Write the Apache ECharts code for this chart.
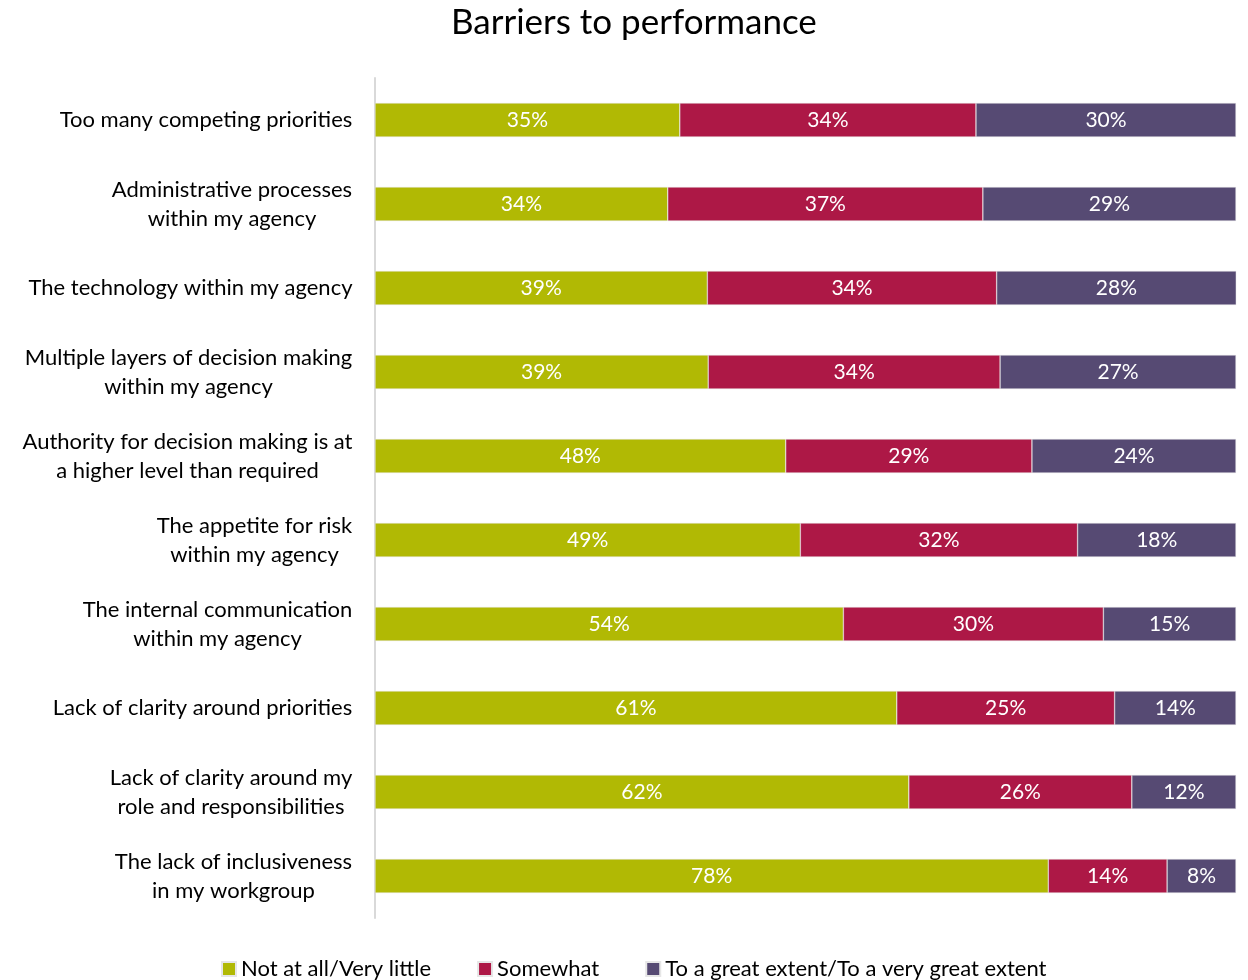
<!DOCTYPE html>
<html><head><meta charset="utf-8">
<script src="https://cdn.jsdelivr.net/npm/echarts@6/dist/echarts.min.js"></script>
<style>html,body{margin:0;padding:0;background:#fff}#c{width:1248px;height:980px}</style>
</head><body><div id="c"></div>
<script>
const categories = [
  "Too many competing priorities",
  "Administrative processes\nwithin my agency",
  "The technology within my agency",
  "Multiple layers of decision making\nwithin my agency",
  "Authority for decision making is at\na higher level than required",
  "The appetite for risk\nwithin my agency",
  "The internal communication\nwithin my agency",
  "Lack of clarity around priorities",
  "Lack of clarity around my\nrole and responsibilities",
  "The lack of inclusiveness\nin my workgroup"
];
const seriesNames = ["Not at all/Very little", "Somewhat", "To a great extent/To a very great extent"];
const notAtAll = [35.4, 34.0, 38.6, 38.7, 47.7, 49.4, 54.4, 60.6, 62.0, 78.2];
const somewhat = [34.4, 36.6, 33.6, 33.9, 28.6, 32.2, 30.2, 25.3, 25.9, 13.8];
const greatExtent = [30.2, 29.4, 27.9, 27.4, 23.7, 18.4, 15.4, 14.1, 12.1, 8.0];
const colors = ["#B1B904", "#AD1846", "#564A73"];
const FONT = "Lato";
const LABEL_SIZE = 22;

// measure the widest line of each category so multi-line labels are centred
const cv = document.createElement('canvas').getContext('2d');
cv.font = LABEL_SIZE + 'px ' + FONT;
const rich = {};
categories.forEach((c, i) => {
  const w = Math.max(...c.split('\n').map(l => cv.measureText(l).width));
  rich['c' + i] = { width: Math.ceil(w) + 1, align: 'center', fontFamily: FONT, fontSize: LABEL_SIZE, color: '#000', lineHeight: 29 };
});

const chart = echarts.init(document.getElementById('c'));
const mk = (name, data, color) => ({
  name, type: 'bar', stack: 'all', data, barWidth: 34,
  itemStyle: { color, borderColor: '#e6e6e6', borderWidth: 0.5 },
  label: { show: true, position: 'inside', color: '#fff', fontFamily: FONT, fontSize: 21,
    formatter: p => Math.round(p.value) + '%' }
});
chart.setOption({
  animation: false,
  textStyle: { fontFamily: FONT },
  title: { text: 'Barriers to performance', left: 446, top: 0,
    textStyle: { fontFamily: FONT, fontSize: 35, fontWeight: 'normal', color: '#000' } },
  legend: { top: 953, left: 216, itemWidth: 14, itemHeight: 14, itemGap: 46, itemTextGap: 5, icon: 'rect',
    textStyle: { fontFamily: FONT, fontSize: 22, color: '#000' }, data: seriesNames },
  grid: { left: 375, right: 12, top: 78, bottom: 62, containLabel: false },
  xAxis: { type: 'value', min: 0, max: 100, show: false },
  yAxis: { type: 'category', data: categories, inverse: true,
    axisLine: { show: true, lineStyle: { color: '#d9d9d9', width: 2 } },
    axisTick: { show: false },
    axisLabel: { margin: 22, align: 'right', lineHeight: 29, fontFamily: FONT, fontSize: LABEL_SIZE, color: '#000',
      formatter: (v, i) => v.split('\n').map(l => '{c' + i + '|' + l + '}').join('\n'),
      rich } },
  series: [mk(seriesNames[0], notAtAll, colors[0]), mk(seriesNames[1], somewhat, colors[1]), mk(seriesNames[2], greatExtent, colors[2])]
});
</script></body></html>
